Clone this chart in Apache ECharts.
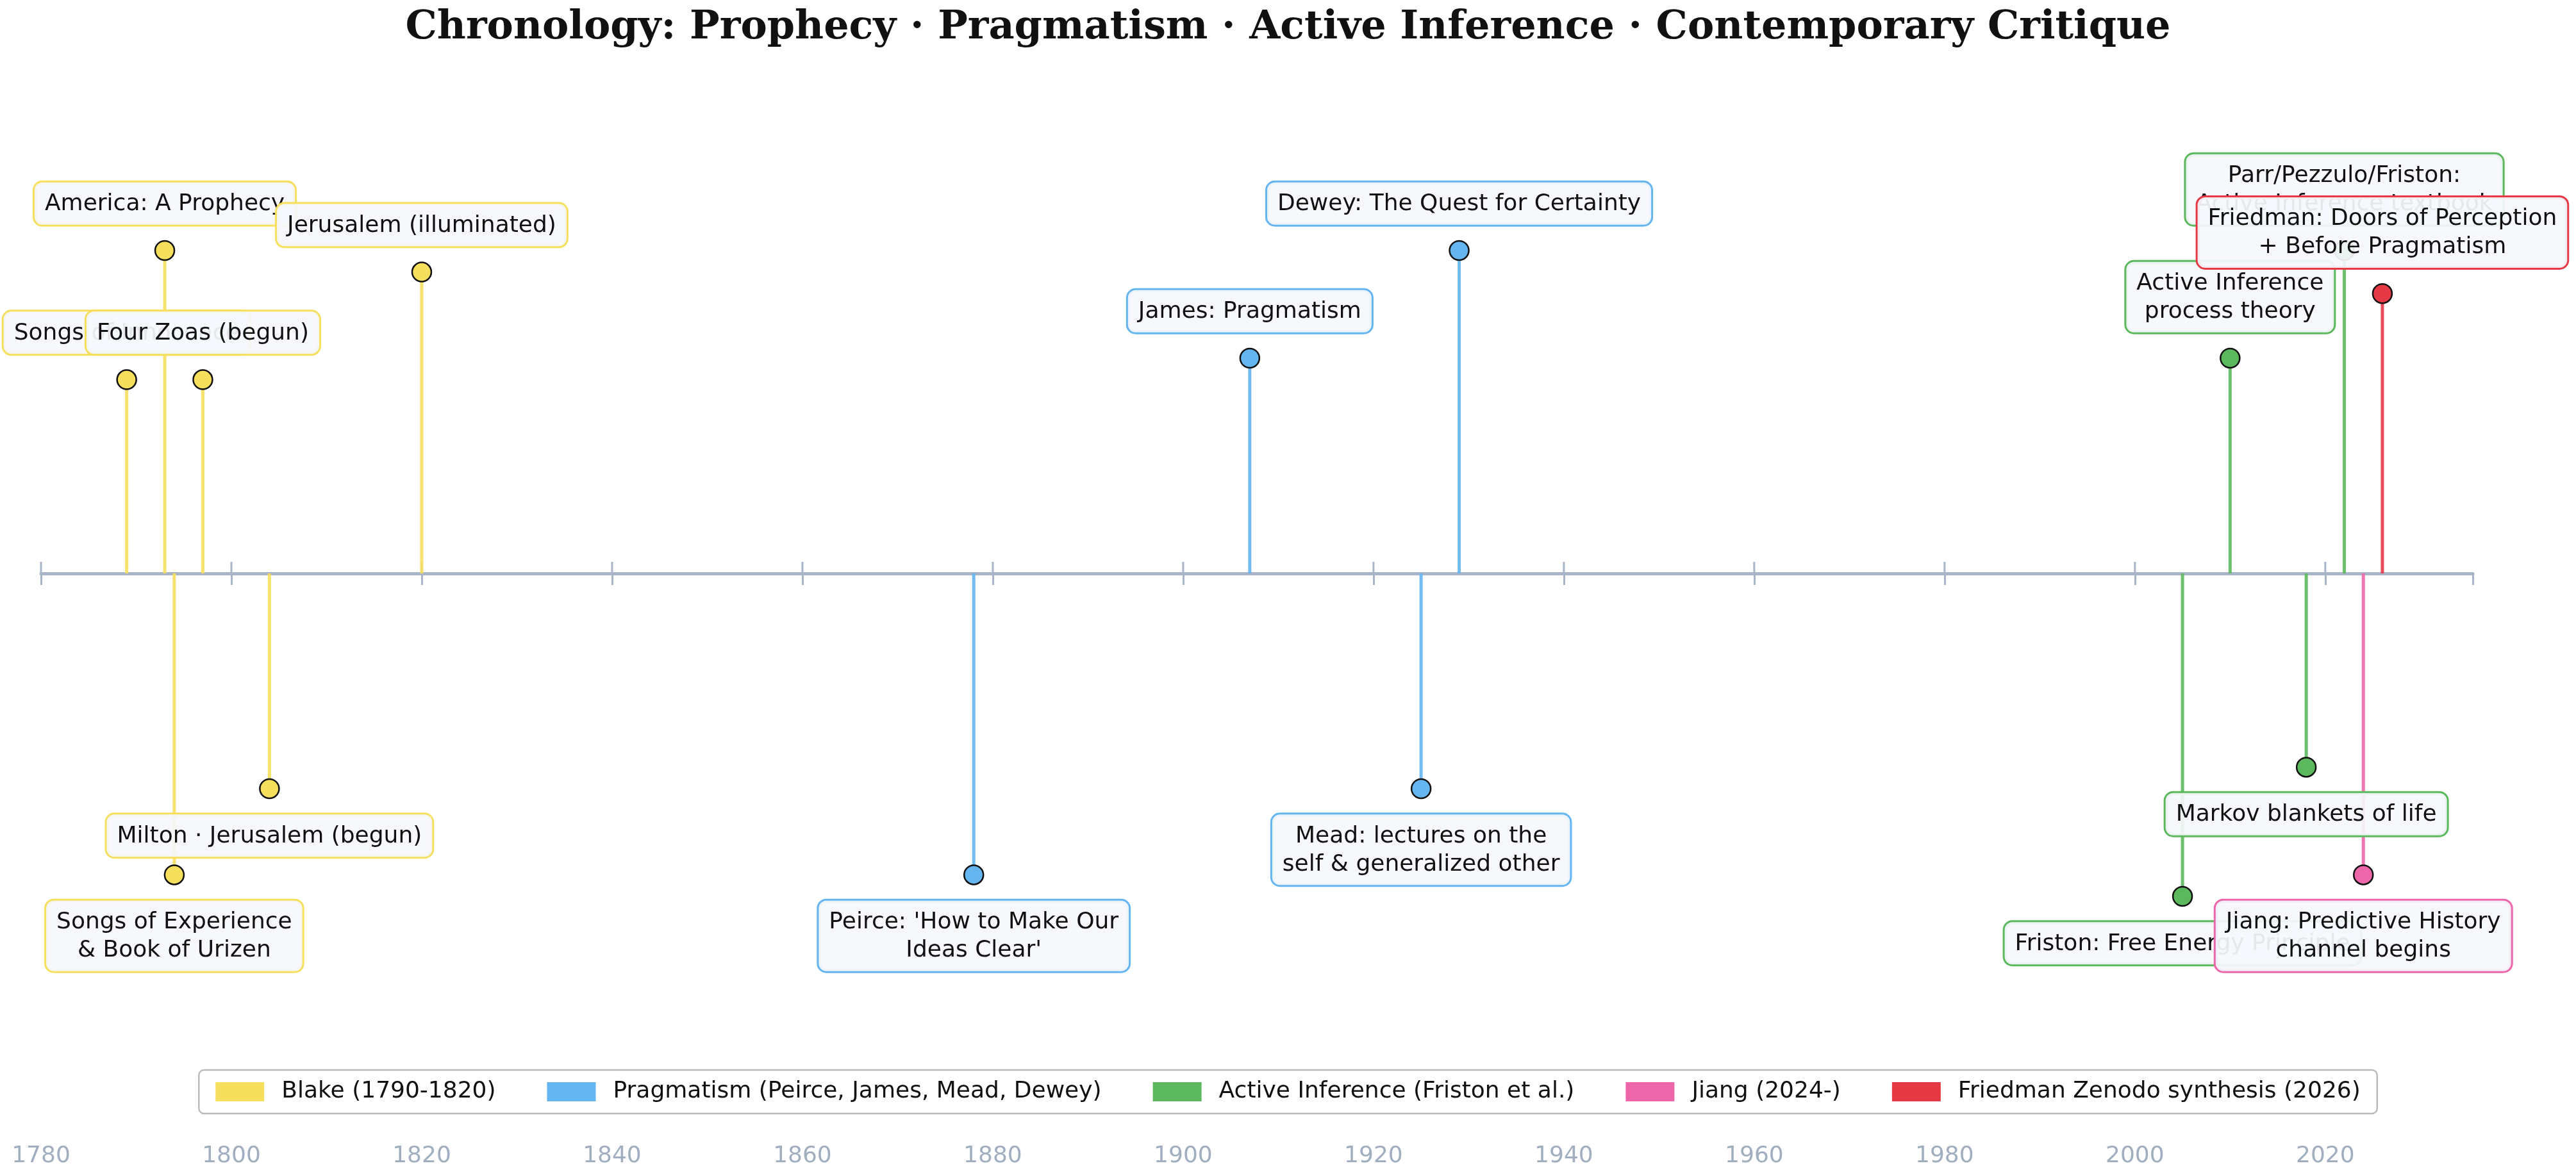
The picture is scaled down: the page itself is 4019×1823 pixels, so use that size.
<!DOCTYPE html>
<html><head><meta charset="utf-8">
<script src="https://cdn.jsdelivr.net/npm/echarts@6/dist/echarts.min.js"></script>
<style>html,body{margin:0;padding:0;background:#fff}#c{width:4019px;height:1823px}</style>
</head><body><div id="c"></div>
<script>
const groupNames = ['Blake (1790-1820)','Pragmatism (Peirce, James, Mead, Dewey)','Active Inference (Friston et al.)','Jiang (2024-)','Friedman Zenodo synthesis (2026)'];
const groupColors = ['#f7df5e','#64b5f0','#5cb85c','#ee66aa','#e63946'];
const blakeYears = [1789,1793,1794,1797,1804,1820];
const blakeHeights = [0.9,1.5,-1.4,0.9,-1.0,1.4];
const blakeLabels = ['Songs of Innocence','America: A Prophecy','Songs of Experience\n& Book of Urizen','Four Zoas (begun)','Milton · Jerusalem (begun)','Jerusalem (illuminated)'];
const pragYears = [1878,1907,1925,1929];
const pragHeights = [-1.4,1.0,-1.0,1.5];
const pragLabels = ["Peirce: 'How to Make Our\nIdeas Clear'",'James: Pragmatism','Mead: lectures on the\nself & generalized other','Dewey: The Quest for Certainty'];
const aiYears = [2005,2010,2018,2022];
const aiHeights = [-1.5,1.0,-0.9,1.5];
const aiLabels = ['Friston: Free Energy Principle','Active Inference\nprocess theory','Markov blankets of life','Parr/Pezzulo/Friston:\nActive Inference textbook'];
const jiangYears = [2024];
const jiangHeights = [-1.4];
const jiangLabels = ['Jiang: Predictive History\nchannel begins'];
const friedYears = [2026];
const friedHeights = [1.3];
const friedLabels = ['Friedman: Doors of Perception\n+ Before Pragmatism'];
const tickYears = [1780,1800,1820,1840,1860,1880,1900,1920,1940,1960,1980,2000,2020];

const groups = [
  [blakeYears,blakeHeights,blakeLabels],
  [pragYears,pragHeights,pragLabels],
  [aiYears,aiHeights,aiLabels],
  [jiangYears,jiangHeights,jiangLabels],
  [friedYears,friedHeights,friedLabels]
];
const series = [];
series.push({
  type:'custom', silent:true, z:0,
  renderItem:(params,api)=>{
    const p = api.coord([api.value(0),0]);
    return {type:'line',shape:{x1:p[0],y1:p[1]-18,x2:p[0],y2:p[1]},style:{stroke:'#a8b4c8',lineWidth:3}};
  },
  data: tickYears.map(t=>[t,0])
});
groups.forEach((g,i)=>{
  const data = g[0].map((x,k)=>[x,g[1][k],g[2][k]]);
  series.push({
    type:'custom', name:groupNames[i], silent:true, z:1,
    renderItem:(params,api)=>{
      const p0 = api.coord([api.value(0),0]);
      const p1 = api.coord([api.value(0),api.value(1)]);
      return {type:'line',shape:{x1:p0[0],y1:p0[1],x2:p1[0],y2:p1[1]},style:{stroke:groupColors[i],lineWidth:5,opacity:0.9}};
    },
    data: data
  });
  series.push({
    type:'scatter', name:groupNames[i], z:3,
    symbolSize:30,
    itemStyle:{color:groupColors[i],borderColor:'#111',borderWidth:2.5,opacity:1},
    data: data.map(d=>({value:d,label:{position:d[1]>0?'top':'bottom'}})),
    label:{show:true,formatter:p=>p.value[2],distance:24,fontFamily:'DejaVu Sans',fontSize:36,lineHeight:44,color:'#111',
      backgroundColor:'rgba(245,248,252,0.93)',borderColor:groupColors[i],borderWidth:3,borderRadius:12,padding:[12,16,10,16],align:'center'},
    labelLayout:{hideOverlap:false}
  });
});

const chart = echarts.init(document.getElementById('c'));
chart.setOption({
  animation:false,
  title:{text:'Chronology: Prophecy · Pragmatism · Active Inference · Contemporary Critique',left:'center',top:8,
    textStyle:{fontFamily:'DejaVu Serif',fontWeight:'bold',fontSize:62,color:'#111'}},
  legend:{data:groupNames.map((n,i)=>({name:n,icon:'rect',itemStyle:{color:groupColors[i],borderWidth:0}})),
    bottom:85,left:'center',itemWidth:76,itemHeight:30,itemGap:80,
    textStyle:{fontFamily:'DejaVu Sans',fontSize:36,color:'#111',padding:[0,0,0,22]},
    borderColor:'#bbb',borderWidth:2.5,borderRadius:8,padding:[16,26],backgroundColor:'#fff'},
  grid:{left:64,right:4019-3858,top:55,bottom:63,containLabel:false},
  xAxis:{type:'value',min:1780,max:2035.5,interval:20,
    axisLine:{onZero:true,lineStyle:{color:'#a8b4c8',width:5}},
    axisTick:{show:true,length:18,lineStyle:{color:'#a8b4c8',width:3}},
    axisLabel:{margin:52,fontFamily:'DejaVu Sans',fontSize:36,color:'#a0aec0',formatter:v=>v>2020?'':String(v)},
    splitLine:{show:false}},
  yAxis:{type:'value',min:-2.5,max:2.5,show:false},
  series: series
});
</script></body></html>
